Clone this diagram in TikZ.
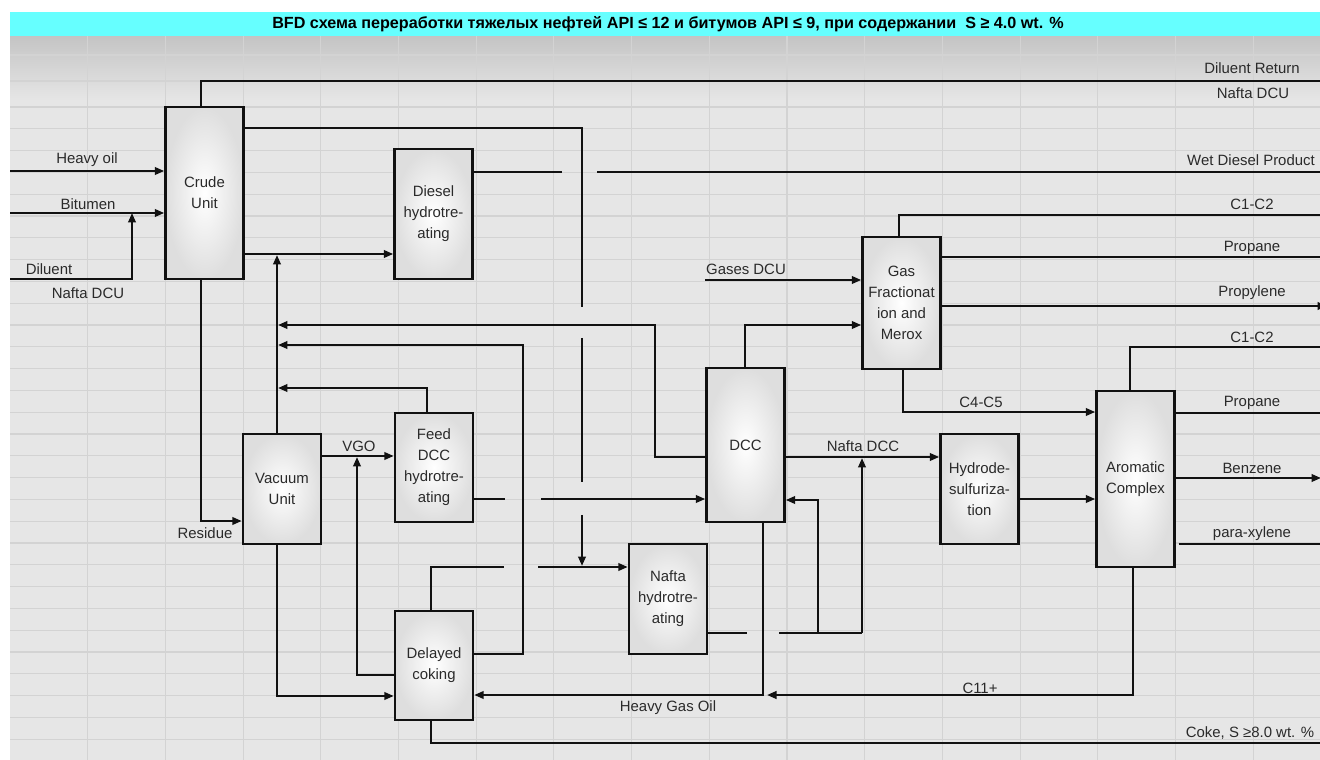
\documentclass[tikz,border=0pt]{standalone}
\usepackage{fontspec}
\setmainfont{Liberation Sans}
\usetikzlibrary{arrows.meta,positioning,calc}
\definecolor{bfdcyan}{HTML}{66FFFF}
\definecolor{bfdpaper}{HTML}{E6E6E6}
\definecolor{bfdshade}{HTML}{C4C4C4}
\definecolor{bfdgrid}{HTML}{D3D3D3}
\definecolor{bfdink}{HTML}{111111}
\definecolor{bfdbox}{HTML}{DEDEDE}
\definecolor{bfdtext}{HTML}{2A2A2A}

\begin{document}
\begin{tikzpicture}[x=0.02cm,y=-0.02cm,font=\fontsize{8.5}{12}\selectfont,
  box/.style={draw=bfdink,line width=1.4pt,inner color=white,outer color=bfdbox,align=center,minimum width=1.56cm,inner sep=1pt,text=bfdtext},
  ln/.style={draw=bfdink,line width=1.3pt},
  ar/.style={ln,-{Triangle[length=1.9mm,width=1.5mm]}},
  lbl/.style={inner sep=1pt,text=bfdtext}]
  \useasboundingbox (0,0) rectangle (1320,760);
  \clip (0,0) rectangle (1320,760);
  \fill[white] (0,0) rectangle (1320,760);
  \fill[bfdpaper] (10,36) rectangle (1320,760);
  \shade[top color=bfdshade,bottom color=bfdpaper] (10,36) rectangle (1320,100);
  \foreach \gx in {1,...,16} \draw[bfdgrid,line width=0.6pt] ({10+77.7*\gx},36) -- ({10+77.7*\gx},760);
  \foreach \gy in {55,81} \draw[bfdgrid,line width=0.6pt] (10,\gy) -- (1320,\gy);
  \foreach \k in {0,...,29} \draw[bfdgrid,line width=0.6pt] (10,{107+21.8*\k}) -- (1320,{107+21.8*\k});
  \fill[bfdcyan] (10,12) rectangle (1320,36);
  \node[font=\bfseries\fontsize{9.2}{10}\selectfont] (title) at (668,24) {BFD схема переработки тяжелых нефтей API ≤ 12 и битумов API ≤ 9, при содержании~ S ≥ 4.0 wt. \%};

  \node[box,minimum height=3.44cm] (crude) at (204.5,193) {Crude\\Unit};
  \node[box,minimum height=2.6cm] (diesel) at (433.5,214) {Diesel\\hydrotre-\\ating};
  \node[box,minimum height=2.2cm] (vacuum) at (282,489) {Vacuum\\Unit};
  \node[box,minimum height=2.18cm] (feed) at (434,467.5) {Feed\\DCC\\hydrotre-\\ating};
  \node[box,minimum height=2.18cm] (coking) at (434,665.5) {Delayed\\coking};
  \node[box,minimum height=3.08cm] (dcc) at (745.5,445) {DCC};
  \node[box,minimum height=2.64cm] (gasfr) at (901.5,303) {Gas\\Fractionat\\ion and\\Merox};
  \node[box,minimum height=3.52cm] (arom) at (1135.5,479) {Aromatic\\Complex};
  \node[box,minimum height=2.2cm] (hds) at (979.5,489) {Hydrode-\\sulfuriza-\\tion};
  \node[box,minimum height=2.2cm] (nafht) at (668,599) {Nafta\\hydrotre-\\ating};

  \coordinate (hoin) at (10,171); \coordinate (btin) at (10,213); \coordinate (dlin) at (10,279);
  \coordinate (gdin) at (705,280);
  \coordinate (drout) at (1320,81); \coordinate (wdout) at (1320,172);
  \coordinate (c12a) at (1320,215); \coordinate (propa) at (1320,257);
  \coordinate (propyl) at (1327,306); \coordinate (c12b) at (1330,347);
  \coordinate (propb) at (1330,413); \coordinate (benz) at (1321,478);
  \coordinate (pxyl) at (1320,544); \coordinate (coke) at (1320,743);

  \draw[ar] (hoin) -- (crude.west |- hoin); \draw[ar] (btin) -- (crude.west |- btin);
  \draw[ar] (dlin) -- (132,279) -- (132,213);
  \draw[ln] (crude.north -| 201,0) -- (201,81) -- (drout);
  \draw[ln] (crude.east |- 0,128) -- (582,128) -- (582,307) (582,338) -- (582,482);
  \draw[ar] (582,515) -- (582,566);
  \draw[ar] (crude.east |- 0,254) -- (diesel.west |- 0,254);
  \draw[ln] (diesel.east |- wdout) -- (562,172) (597,172) -- (wdout);
  \draw[ar] (vacuum.north -| 277,0) -- (277,255);
  \draw[ar] (dcc.west |- 0,457) -- (655,457) -- (655,325) -- (278,325);
  \draw[ar] (coking.east |- 0,654) -- (523,654) -- (523,345) -- (278,345);
  \draw[ar] (feed.north -| 427,0) -- (427,388) -- (278,388);
  \draw[ar] (crude.south -| 201,0) -- (201,521) -- (vacuum.west |- 0,521);
  \draw[ar] (vacuum.east |- 0,456) -- (feed.west |- 0,456);
  \draw[ar] (coking.west |- 0,675) -- (357,675) -- (357,457);
  \draw[ar] (vacuum.south -| 277,0) -- (277,696) -- (coking.west |- 0,696);
  \draw[ln] (coking.north -| 431,0) -- (431,567) -- (504,567); \draw[ar] (538,567) -- (nafht.west |- 0,567);
  \draw[ln] (feed.east |- 0,499) -- (505,499); \draw[ar] (541,499) -- (dcc.west |- 0,499);
  \draw[ar] (dcc.south -| 763,0) -- (763,695) -- (coking.east |- 0,695);
  \draw[ar] (arom.south -| 1133,0) -- (1133,695) -- (767,695);
  \draw[ar] (dcc.north -| 745,0) -- (745,325) -- (gasfr.west |- 0,325);
  \draw[ar] (gdin) -- (gasfr.west |- gdin);
  \draw[ln] (gasfr.north -| 899,0) -- (899,215) -- (c12a);
  \draw[ln] (gasfr.east |- propa) -- (propa); \draw[ar] (gasfr.east |- propyl) -- (propyl);
  \draw[ar] (gasfr.south -| 903,0) -- (903,412) -- (arom.west |- 0,412);
  \draw[ar] (arom.north -| 1130,0) -- (1130,347) -- (c12b);
  \draw[ar] (arom.east |- propb) -- (propb); \draw[ar] (arom.east |- benz) -- (benz);
  \draw[ln] ([xshift=1.7pt]arom.east |- pxyl) -- (pxyl);
  \draw[ar] (dcc.east |- 0,457) -- (hds.west |- 0,457);
  \draw[ar] (862,633) -- (862,458);
  \draw[ln] (nafht.east |- 0,633) -- (747,633) (779,633) -- (862,633);
  \draw[ar] (818,633) -- (818,500) -- (dcc.east |- 0,500);
  \draw[ar] (hds.east |- 0,499) -- (arom.west |- 0,499);
  \draw[ln] (coking.south -| 431,0) -- (431,743) -- (coke);

  \node[lbl] (lhvy) at (87,160) {Heavy oil}; \node[lbl] (lbit) at (88,204) {Bitumen};
  \node[lbl] (ldil) at (49,269) {Diluent}; \node[lbl] (ldnd) at (88,293) {Nafta DCU};
  \node[lbl] (lret) at (1252,68) {Diluent Return}; \node[lbl] (lrnd) at (1253,93) {Nafta DCU};
  \node[lbl] (lwet) at (1251,160) {Wet Diesel Product};
  \node[lbl] (lc12a) at (1252,204) {C1-C2}; \node[lbl] (lpra) at (1252,248) {Propane};
  \node[lbl] (lpyl) at (1252,293) {Propylene}; \node[lbl] (lc12b) at (1252,337) {C1-C2};
  \node[lbl] (lprb) at (1252,403) {Propane}; \node[lbl] (lbnz) at (1252,468) {Benzene};
  \node[lbl] (lpx) at (1252,534) {para-xylene}; \node[lbl] (lcoke) at (1250,733) {Coke, S ≥8.0 wt. \%};
  \node[lbl] (lgas) at (746,269) {Gases DCU}; \node[lbl] (lc45) at (981,402) {C4-C5};
  \node[lbl] (lndcc) at (863,446) {Nafta DCC}; \node[lbl] (lvgo) at (359,446) {VGO};
  \node[lbl] (lres) at (205,533) {Residue}; \node[lbl] (lc11) at (980,688) {C11+};
  \node[lbl] (lhgo) at (668,708) {Heavy Gas Oil};
\end{tikzpicture}
\end{document}
